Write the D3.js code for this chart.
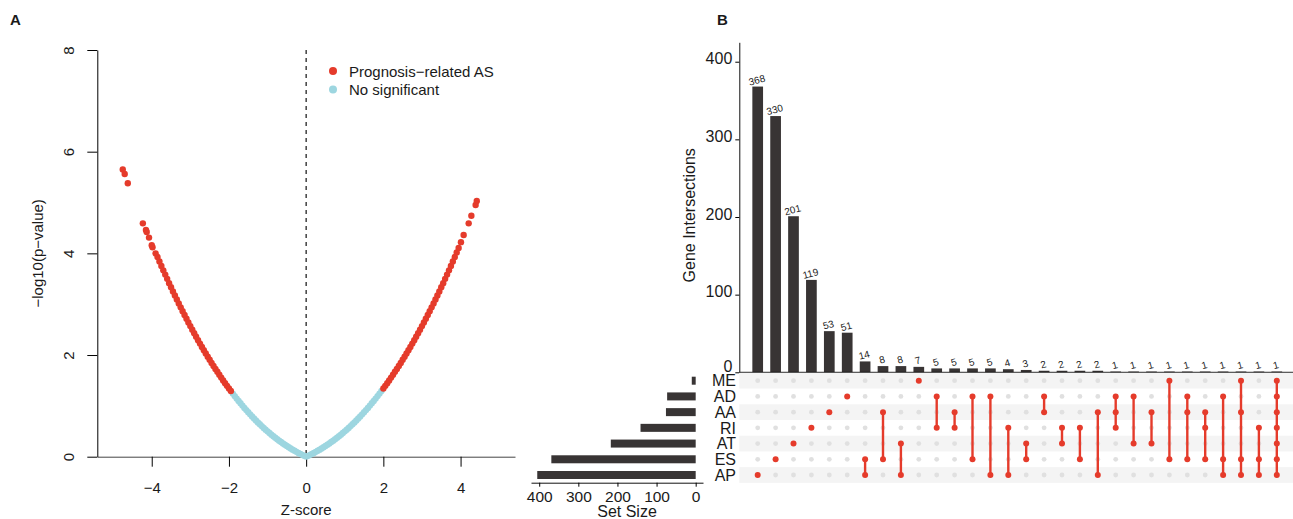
<!DOCTYPE html>
<html>
<head>
<meta charset="utf-8">
<script src="https://cdn.jsdelivr.net/npm/d3@7"></script>
<style>
  body { margin: 0; background: #fff; }
  svg text { font-family: "Liberation Sans", Arial, Helvetica, sans-serif; fill: #1a1a1a; }
</style>
</head>
<body>
<svg id="chart" width="1293" height="519"></svg>
<script>
// ---- panel A: volcano points [z-score, -log10(p)] ----
var noSigPoints = [
  [-1.90,1.241],[-1.85,1.192],[-1.80,1.143],[-1.75,1.096],[-1.70,1.050],[-1.65,1.005],[-1.60,0.960],
  [-1.55,0.917],[-1.50,0.874],[-1.45,0.833],[-1.40,0.792],[-1.35,0.752],[-1.30,0.713],[-1.25,0.675],
  [-1.20,0.638],[-1.15,0.602],[-1.10,0.567],[-1.05,0.532],[-1.00,0.499],[-0.95,0.466],[-0.90,0.434],
  [-0.85,0.403],[-0.80,0.373],[-0.75,0.344],[-0.70,0.315],[-0.65,0.288],[-0.60,0.261],[-0.55,0.235],
  [-0.50,0.210],[-0.45,0.185],[-0.40,0.162],[-0.35,0.139],[-0.30,0.117],[-0.25,0.095],[-0.20,0.075],
  [-0.15,0.055],[-0.10,0.036],[-0.05,0.017],[0.00,0.002],
  [0.05,0.017],[0.10,0.036],[0.15,0.055],[0.20,0.075],[0.25,0.095],[0.30,0.117],[0.35,0.139],
  [0.40,0.162],[0.45,0.185],[0.50,0.210],[0.55,0.235],[0.60,0.261],[0.65,0.288],[0.70,0.315],
  [0.75,0.344],[0.80,0.373],[0.85,0.403],[0.90,0.434],[0.95,0.466],[1.00,0.499],[1.05,0.532],
  [1.10,0.567],[1.15,0.602],[1.20,0.638],[1.25,0.675],[1.30,0.713],[1.35,0.752],[1.40,0.792],
  [1.45,0.833],[1.50,0.874],[1.55,0.917],[1.60,0.960],[1.65,1.005],[1.70,1.050],[1.75,1.096],
  [1.80,1.143],[1.85,1.192],[1.90,1.241],[1.95,1.291]
];
var prognosisPoints = [
  [-1.95,1.291],[-2.00,1.342],[-2.05,1.394],[-2.10,1.447],[-2.15,1.501],[-2.20,1.556],[-2.25,1.612],
  [-2.30,1.670],[-2.35,1.727],[-2.40,1.785],[-2.45,1.845],[-2.50,1.906],[-2.55,1.968],[-2.60,2.031],
  [-2.65,2.095],[-2.70,2.159],[-2.75,2.225],[-2.80,2.292],[-2.85,2.360],[-2.90,2.428],[-2.95,2.498],
  [-3.00,2.569],[-3.05,2.640],[-3.10,2.713],[-3.15,2.787],[-3.20,2.862],[-3.25,2.938],[-3.30,3.015],
  [-3.35,3.093],[-3.40,3.171],[-3.45,3.251],[-3.50,3.332],[-3.55,3.414],[-3.60,3.498],[-3.65,3.582],
  [-3.70,3.666],[-3.75,3.752],[-3.80,3.840],[-3.85,3.928],[-3.90,4.000],
  [-3.98,4.12],[-4.00,4.16],[-4.07,4.31],[-4.13,4.42],[-4.15,4.46],[-4.23,4.59],
  [-4.62,5.38],[-4.70,5.56],[-4.75,5.65],
  [2.00,1.342],[2.05,1.394],[2.10,1.447],[2.15,1.501],[2.20,1.556],[2.25,1.612],[2.30,1.670],
  [2.35,1.727],[2.40,1.785],[2.45,1.845],[2.50,1.906],[2.55,1.968],[2.60,2.031],[2.65,2.095],
  [2.70,2.159],[2.75,2.225],[2.80,2.292],[2.85,2.360],[2.90,2.428],[2.95,2.498],[3.00,2.569],
  [3.05,2.640],[3.10,2.713],[3.15,2.787],[3.20,2.862],[3.25,2.938],[3.30,3.015],[3.35,3.093],
  [3.40,3.171],[3.45,3.251],[3.50,3.332],[3.55,3.414],[3.60,3.498],[3.65,3.582],[3.70,3.666],
  [3.75,3.752],[3.80,3.840],[3.85,3.928],[3.90,4.017],[3.95,4.107],
  [4.01,4.22],[4.08,4.36],[4.21,4.59],[4.28,4.74],[4.39,4.95],[4.42,5.03]
];
var volcanoXTicks = [-4, -2, 0, 2, 4];
var volcanoYTicks = [0, 2, 4, 6, 8];
var legendLabels = ["Prognosis\u2212related AS", "No significant"];

// ---- panel B: upset plot ----
var setNames = ["ME", "AD", "AA", "RI", "AT", "ES", "AP"];
var setSizes = [10, 73, 76, 141, 217, 369, 405];
var intersectionSizes = [368, 330, 201, 119, 53, 51, 14, 8, 8, 7, 5, 5, 5, 5, 4, 3, 2, 2, 2, 2, 1, 1, 1, 1, 1, 1, 1, 1, 1, 1];
var intersectionSets = [
  ["AP"], ["ES"], ["AT"], ["RI"], ["AA"], ["AD"], ["ES", "AP"], ["AA", "ES"], ["AT", "AP"], ["ME"],
  ["AD", "RI"], ["AA", "RI"], ["AD", "ES"], ["AD", "AP"], ["RI", "AP"], ["AT", "ES"], ["AD", "AA"], ["RI", "AT"], ["RI", "ES"], ["AA", "AP"],
  ["AD", "AA", "RI"], ["AD", "AT"], ["AA", "AT"], ["ME", "ES"], ["AD", "AA", "ES"], ["AA", "RI", "ES"], ["AD", "ES", "AP"],
  ["ME", "AA", "ES", "AP"], ["RI", "ES", "AP"], ["ME", "AD", "AA", "RI", "AT", "ES", "AP"]
];
var intersectionTicks = [0, 100, 200, 300, 400];
var setSizeTicks = [0, 100, 200, 300, 400];

var RED = "#E53B2B", CYAN = "#9DD6E0", BAR = "#383434";

var svg = d3.select("#chart");

/* ================= panel A ================= */
var gA = svg.append("g");

var xZ = d3.scaleLinear().domain([-5.41, 5.41]).range([97.3, 515]);
var yP = d3.scaleLinear().domain([0, 8]).range([456.7, 50]);

gA.append("text")
  .attr("x", 10).attr("y", 25)
  .style("font-size", "15px").style("font-weight", "bold")
  .text("A");

var xAxisA = gA.append("g")
  .attr("transform", "translate(0," + yP(0) + ")")
  .call(d3.axisBottom(xZ).tickValues(volcanoXTicks).tickSize(10).tickSizeOuter(0).tickPadding(16)
    .tickFormat(function(d) { return d < 0 ? "\u2212" + Math.abs(d) : d; }));
xAxisA.selectAll("text").style("font-size", "15px");
xAxisA.select(".domain").attr("stroke", "#444");

var yAxisA = gA.append("g")
  .attr("transform", "translate(" + xZ.range()[0] + ",0)")
  .call(d3.axisLeft(yP).tickValues(volcanoYTicks).tickSize(10).tickSizeOuter(0));
yAxisA.selectAll("text")
  .attr("transform", "rotate(-90)")
  .attr("x", 0).attr("y", -23).attr("dy", 0)
  .style("text-anchor", "middle")
  .style("font-size", "15px");

gA.append("text")
  .attr("transform", "translate(43," + yP(4) + ") rotate(-90)")
  .style("text-anchor", "middle")
  .style("font-size", "15px")
  .text("\u2212log10(p\u2212value)");

gA.append("text")
  .attr("x", xZ(0)).attr("y", 515)
  .style("text-anchor", "middle")
  .style("font-size", "15px")
  .text("Z-score");

// dashed zero line
gA.append("line")
  .attr("x1", xZ(0)).attr("x2", xZ(0))
  .attr("y1", yP(8)).attr("y2", yP(0))
  .attr("stroke", "#222").attr("stroke-width", 1.3)
  .attr("stroke-dasharray", "4,4");

gA.append("g").selectAll("circle")
  .data(noSigPoints).enter().append("circle")
  .attr("cx", function(d) { return xZ(d[0]); })
  .attr("cy", function(d) { return yP(d[1]); })
  .attr("r", 3.2)
  .attr("fill", CYAN);

gA.append("g").selectAll("circle")
  .data(prognosisPoints).enter().append("circle")
  .attr("cx", function(d) { return xZ(d[0]); })
  .attr("cy", function(d) { return yP(d[1]); })
  .attr("r", 3.2)
  .attr("fill", RED);

// legend
var legend = gA.append("g").attr("transform", "translate(333,71)");
legendLabels.forEach(function(lab, i) {
  legend.append("circle").attr("cx", 0).attr("cy", i * 18.5).attr("r", 4).attr("fill", i == 0 ? RED : CYAN);
  legend.append("text").attr("x", 16).attr("y", i * 18.5 + 5.5).style("font-size", "15px").text(lab);
});

/* ================= panel B ================= */
var gB = svg.append("g");

gB.append("text")
  .attr("x", 717).attr("y", 25)
  .style("font-size", "15px").style("font-weight", "bold")
  .text("B");

var colIdx = d3.range(intersectionSizes.length);
var xCol = d3.scalePoint().domain(colIdx).range([757.7, 1276.8]);
var yInt = d3.scaleLinear().domain([0, 425]).range([372.3, 42.3]);
var yRow = d3.scalePoint().domain(setNames).range([380.7, 475]);
var rowH = yRow.step();
var xSet = d3.scaleLinear().domain([-18.7, 421]).range([703, 531]);
var barW = 10.7;

// intersection bars
gB.append("g").selectAll("rect")
  .data(intersectionSizes).enter().append("rect")
  .attr("x", function(d, i) { return xCol(i) - barW / 2; })
  .attr("y", function(d) { return yInt(d); })
  .attr("width", barW)
  .attr("height", function(d) { return yInt(0) - yInt(d); })
  .attr("fill", BAR);

gB.append("g").selectAll("text")
  .data(intersectionSizes).enter().append("text")
  .attr("transform", function(d, i) { return "translate(" + xCol(i) + "," + (yInt(d) - 3) + ") rotate(-15)"; })
  .style("text-anchor", "middle")
  .style("font-size", "10px")
  .text(function(d) { return d; });

var yAxisB = gB.append("g")
  .attr("transform", "translate(739.3,0)")
  .call(d3.axisLeft(yInt).tickValues(intersectionTicks).tickSize(4).tickSizeOuter(0).tickPadding(3));
yAxisB.selectAll("text").style("font-size", "16px")
  .attr("y", function(d) { return d == 0 ? -6 : -3; });
yAxisB.select(".domain").attr("stroke", "#111");

gB.append("line")
  .attr("x1", 739.3).attr("x2", 1293)
  .attr("y1", yInt(0)).attr("y2", yInt(0))
  .attr("stroke", "#111");

gB.append("text")
  .attr("transform", "translate(695," + ((yInt(0) + yInt(425)) / 2 + 8) + ") rotate(-90)")
  .style("text-anchor", "middle")
  .style("font-size", "16px")
  .text("Gene Intersections");

// matrix stripes
gB.append("g").selectAll("rect")
  .data(setNames.filter(function(d, i) { return i % 2 == 0; })).enter().append("rect")
  .attr("x", 739.3).attr("width", 1293 - 739.3)
  .attr("y", function(d) { return yRow(d) - rowH / 2; })
  .attr("height", rowH)
  .attr("fill", "#f4f4f4");

// grey dots
var grid = [];
colIdx.forEach(function(c) { setNames.forEach(function(s) { grid.push([c, s]); }); });
gB.append("g").selectAll("circle")
  .data(grid).enter().append("circle")
  .attr("cx", function(d) { return xCol(d[0]); })
  .attr("cy", function(d) { return yRow(d[1]); })
  .attr("r", 2.4)
  .attr("fill", "#e0e0e0");

// connecting lines
gB.append("g").selectAll("line")
  .data(intersectionSets.map(function(s, i) { return [i, s]; }).filter(function(d) { return d[1].length > 1; }))
  .enter().append("line")
  .attr("x1", function(d) { return xCol(d[0]); })
  .attr("x2", function(d) { return xCol(d[0]); })
  .attr("y1", function(d) { return d3.min(d[1], function(s) { return yRow(s); }); })
  .attr("y2", function(d) { return d3.max(d[1], function(s) { return yRow(s); }); })
  .attr("stroke", RED).attr("stroke-width", 2.4);

var filled = [];
intersectionSets.forEach(function(s, c) { s.forEach(function(n) { filled.push([c, n]); }); });
gB.append("g").selectAll("circle")
  .data(filled).enter().append("circle")
  .attr("cx", function(d) { return xCol(d[0]); })
  .attr("cy", function(d) { return yRow(d[1]); })
  .attr("r", 3)
  .attr("fill", RED);

// set labels
gB.append("g").selectAll("text")
  .data(setNames).enter().append("text")
  .attr("x", 736)
  .attr("y", function(d) { return yRow(d); })
  .attr("dy", "0.36em")
  .style("text-anchor", "end")
  .style("font-size", "16px")
  .text(function(d) { return d; });

// set size bars
gB.append("g").selectAll("rect")
  .data(setSizes).enter().append("rect")
  .attr("x", function(d) { return xSet(d); })
  .attr("y", function(d, i) { return yRow(setNames[i]) - 4; })
  .attr("width", function(d) { return xSet(0) - xSet(d); })
  .attr("height", 8)
  .attr("fill", BAR);

var xAxisSet = gB.append("g")
  .attr("transform", "translate(0,482.7)")
  .call(d3.axisBottom(xSet).tickValues(setSizeTicks).tickSize(4).tickSizeOuter(0).tickPadding(4));
xAxisSet.selectAll("text").style("font-size", "15.5px");
xAxisSet.select(".domain").attr("stroke", "#111");

gB.append("text")
  .attr("x", 627).attr("y", 517)
  .style("text-anchor", "middle")
  .style("font-size", "16px")
  .text("Set Size");
</script>
</body>
</html>
